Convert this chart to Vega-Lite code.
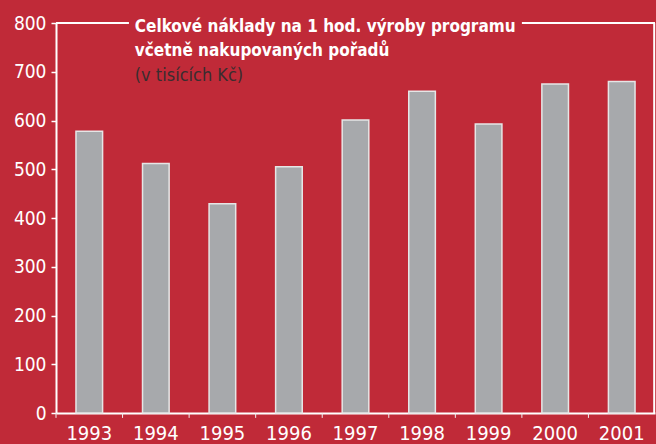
{
  "$schema": "https://vega.github.io/schema/vega-lite/v6.json",
  "width": 599,
  "height": 390,
  "autosize": {"type": "none"},
  "padding": {"left": 56, "top": 23, "right": 1, "bottom": 31},
  "background": "#c02a38",
  "config": {"view": {"stroke": null}, "font": "DejaVu Sans Condensed"},
  "data": {"values": [
    {"year": 1993, "value": 578},
    {"year": 1994, "value": 512},
    {"year": 1995, "value": 429},
    {"year": 1996, "value": 505},
    {"year": 1997, "value": 601},
    {"year": 1998, "value": 660},
    {"year": 1999, "value": 593},
    {"year": 2000, "value": 675},
    {"year": 2001, "value": 680}
  ]},
  "layer": [
    {
      "mark": {"type": "bar", "color": "#a7a9ac", "stroke": "#e6e6e6", "strokeWidth": 1.5},
      "encoding": {
        "x": {"field": "year", "type": "nominal",
          "scale": {"paddingInner": 0.6, "paddingOuter": 0.3},
          "axis": {"title": null, "labelAngle": 0, "ticks": false, "domainColor": "white", "domainWidth": 2,
            "labelColor": "white", "labelFontSize": 20,
            "labelPadding": 10, "labelFont": "DejaVu Sans Condensed"}},
        "y": {"field": "value", "type": "quantitative",
          "scale": {"domain": [0, 800]},
          "axis": {"title": null, "grid": false, "values": [0, 100, 200, 300, 400, 500, 600, 700, 800],
            "domainColor": "white", "domainWidth": 2, "tickColor": "white", "tickWidth": 1.5, "tickSize": 5,
            "labelColor": "white", "labelFontSize": 19, "labelPadding": 5, "labelFont": "DejaVu Sans Condensed"}}
      }
    },
    {
      "mark": {"type": "rule", "color": "#f0f0f0", "strokeWidth": 1},
      "encoding": {
        "x": {"field": "year", "type": "nominal", "bandPosition": -0.75},
        "y": {"datum": 0, "type": "quantitative"},
        "y2": {"datum": -10}
      }
    },
    {
      "data": {"values": [{}]},
      "mark": {"type": "rule", "color": "white", "strokeWidth": 2},
      "encoding": {
        "x": {"datum": 1993, "type": "nominal", "bandPosition": -0.75},
        "x2": {"datum": 1994, "bandPosition": -0.51},
        "y": {"datum": 800, "type": "quantitative"}
      }
    },
    {
      "data": {"values": [{}]},
      "mark": {"type": "rule", "color": "white", "strokeWidth": 2},
      "encoding": {
        "x": {"datum": 2000, "type": "nominal", "bandPosition": -0.75},
        "x2": {"datum": 2001, "bandPosition": 1.75},
        "y": {"datum": 800, "type": "quantitative"}
      }
    },
    {
      "data": {"values": [{}]},
      "mark": {"type": "rule", "color": "white", "strokeWidth": 2},
      "encoding": {
        "x": {"datum": 2001, "type": "nominal", "bandPosition": 1.72},
        "y": {"datum": 0, "type": "quantitative"},
        "y2": {"datum": 800}
      }
    },
    {
      "data": {"values": [{}]},
      "mark": {"type": "text", "align": "left", "baseline": "alphabetic", "dy": 9, "fontSize": 17, "fontWeight": "bold",
        "color": "white", "lineHeight": 24, "font": "DejaVu Sans Condensed"},
      "encoding": {
        "x": {"datum": 1994, "type": "nominal", "bandPosition": -0.29},
        "y": {"datum": 800, "type": "quantitative"},
        "text": {"value": ["Celkové náklady na 1 hod. výroby programu", "včetně nakupovaných pořadů"]}
      }
    },
    {
      "data": {"values": [{}]},
      "mark": {"type": "text", "align": "left", "baseline": "alphabetic", "dy": 58, "fontSize": 18,
        "color": "#3a2d2f", "font": "DejaVu Sans Condensed"},
      "encoding": {
        "x": {"datum": 1994, "type": "nominal", "bandPosition": -0.29},
        "y": {"datum": 800, "type": "quantitative"},
        "text": {"value": "(v tisících Kč)"}
      }
    }
  ]
}
